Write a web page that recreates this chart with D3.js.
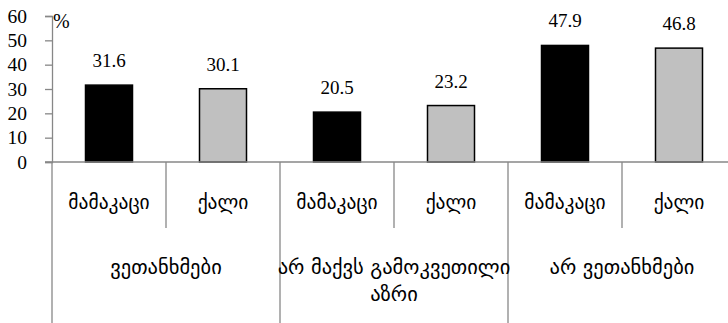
<!DOCTYPE html>
<html>
<head>
<meta charset="utf-8">
<script src="https://cdn.jsdelivr.net/npm/d3@7"></script>
<style>
  html, body { margin: 0; padding: 0; background: #fff; overflow: hidden; }
  svg { display: block; }
</style>
</head>
<body>
<svg id="chart" width="728" height="323"></svg>
<script>
// Survey answers split by gender (percent)
const groups = ["ვეთანხმები", "არ მაქვს გამოკვეთილი აზრი", "არ ვეთანხმები"];
const genders = ["მამაკაცი", "ქალი"];
const menValues = [31.6, 20.5, 47.9];
const womenValues = [30.1, 23.2, 46.8];
const yTicks = [0, 10, 20, 30, 40, 50, 60];
const yUnit = "%";

const colors = { "მამაკაცი": "#000000", "ქალი": "#c0c0c0" };
const axisColor = "#878787";
const numFont = "'Liberation Serif', 'Times New Roman', serif";
const geoFont = "'DejaVu Sans', sans-serif";

const rows = [];
groups.forEach((g, i) => {
  rows.push({ group: g, gender: genders[0], value: menValues[i], key: g + "|" + genders[0] });
  rows.push({ group: g, gender: genders[1], value: womenValues[i], key: g + "|" + genders[1] });
});

const plotLeft = 52, plotRight = 736, plotTop = 16, base = 162, plotBottom = 323;
const svg = d3.select("#chart");

const x = d3.scaleBand().domain(rows.map(d => d.key)).range([plotLeft, plotRight]).paddingInner(0).paddingOuter(0);
const y = d3.scaleLinear().domain([0, 60]).range([base, plotTop]);
const barW = 47;

// Y axis
const yAxis = svg.append("g").attr("transform", `translate(${plotLeft},0)`)
  .call(d3.axisLeft(y).tickValues(yTicks).tickSize(7).tickPadding(18).tickFormat(d3.format("d")));
yAxis.select(".domain").attr("stroke", axisColor).attr("stroke-width", 1.3);
yAxis.selectAll(".tick line").attr("stroke", axisColor).attr("stroke-width", 1.3);
yAxis.selectAll(".tick text").attr("font-family", numFont).attr("font-size", 19.5).attr("fill", "#000");

svg.append("text").attr("x", plotLeft + 1).attr("y", y(60) + 12)
  .attr("font-family", numFont).attr("font-size", 20).text(yUnit);

// Bars
svg.append("g").selectAll("rect").data(rows).join("rect")
  .attr("x", d => x(d.key) + (x.bandwidth() - barW) / 2)
  .attr("y", d => y(d.value))
  .attr("width", barW)
  .attr("height", d => y(0) - y(d.value))
  .attr("fill", d => colors[d.gender])
  .attr("stroke", "#000").attr("stroke-width", 1.5);

// Value labels
svg.append("g").selectAll("text").data(rows).join("text")
  .attr("x", d => x(d.key) + x.bandwidth() / 2)
  .attr("y", d => y(d.value) - 18)
  .attr("text-anchor", "middle")
  .attr("font-family", numFont).attr("font-size", 19)
  .text(d => d.value.toFixed(1));

// Baseline
svg.append("line").attr("x1", plotLeft - 7).attr("x2", plotRight).attr("y1", base).attr("y2", base)
  .attr("stroke", axisColor).attr("stroke-width", 1.3);

// Category separators: full height between groups, short between genders
const groupBand = d3.scaleBand().domain(groups).range([plotLeft, plotRight]);
const sep = svg.append("g").attr("stroke", axisColor).attr("stroke-width", 1.3);
groups.forEach(g => {
  sep.append("line").attr("x1", groupBand(g)).attr("x2", groupBand(g)).attr("y1", base).attr("y2", plotBottom);
  const mid = x(g + "|" + genders[1]);
  sep.append("line").attr("x1", mid).attr("x2", mid).attr("y1", base).attr("y2", 228);
});
sep.append("line").attr("x1", plotRight).attr("x2", plotRight).attr("y1", base).attr("y2", plotBottom);

// Gender labels
svg.append("g").selectAll("text").data(rows).join("text")
  .attr("x", d => x(d.key) + x.bandwidth() / 2)
  .attr("y", 209)
  .attr("text-anchor", "middle")
  .attr("font-family", geoFont).attr("font-size", 19.5)
  .text(d => d.gender);

// Group labels, wrapped to the group width
const groupLines = {
  "ვეთანხმები": ["ვეთანხმები"],
  "არ მაქვს გამოკვეთილი აზრი": ["არ მაქვს გამოკვეთილი", "აზრი"],
  "არ ვეთანხმები": ["არ ვეთანხმები"]
};
groups.forEach(g => {
  const cx = groupBand(g) + groupBand.bandwidth() / 2;
  const t = svg.append("text")
    .attr("x", cx)
    .attr("y", 274)
    .attr("text-anchor", "middle")
    .attr("font-family", geoFont).attr("font-size", 20.5);
  groupLines[g].forEach((line, i) => {
    t.append("tspan").attr("x", cx).attr("dy", i === 0 ? 0 : 27).text(line);
  });
});
</script>
</body>
</html>
